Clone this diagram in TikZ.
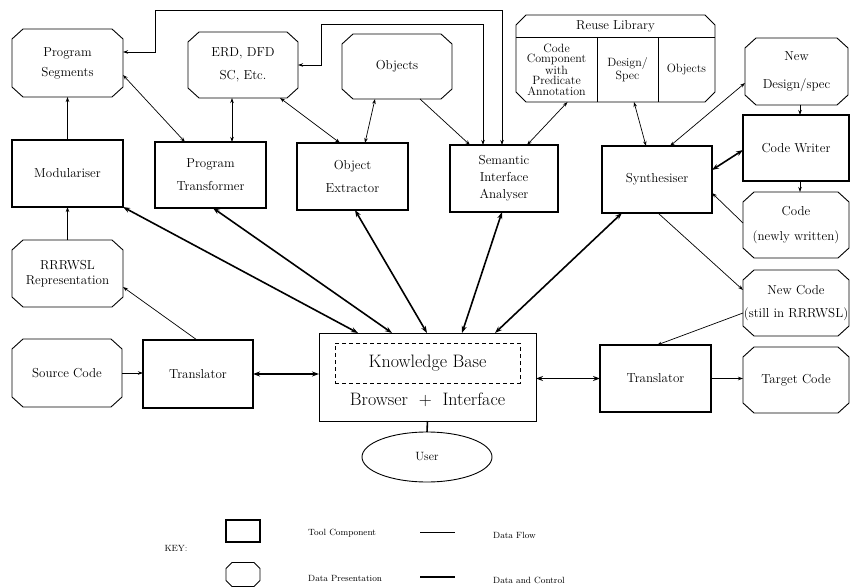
\documentclass[tikz,border=0pt]{standalone}
\usetikzlibrary{arrows.meta,shapes.geometric,calc}
\newcommand\octdraw[3]{%
 \draw[octline] ([xshift=#2]#1.north west) -- ([xshift=-#2]#1.north east) -- ([yshift=-#3]#1.north east) -- ([yshift=#3]#1.south east) -- ([xshift=-#2]#1.south east) -- ([xshift=#2]#1.south west) -- ([yshift=#3]#1.south west) -- ([yshift=-#3]#1.north west) -- cycle;}
\newcommand\octbox[6]{%
 \node[lbl, minimum width=#4pt, minimum height=#5pt] (#1) at (#2,#3) {#6};
 \octdraw{#1}{11pt}{10pt}}
\begin{document}
\begin{tikzpicture}[x=1pt,y=-1pt,
  lbl/.style={font=\fontsize{13}{15}\selectfont, align=center, inner sep=0pt, outer sep=0pt},
  tool/.style={lbl, draw, line width=1.3pt},
  octline/.style={line width=0.9pt, line join=miter},
  dflow/.style={line width=0.7pt, >={Stealth[length=5pt,width=3.5pt]}},
  dctrl/.style={line width=1.6pt, >={Stealth[length=7pt,width=5pt]}},
  keytext/.style={font=\fontsize{9}{11}\selectfont, anchor=west, inner sep=0pt},
  libtext/.style={font=\fontsize{12}{10.5}\selectfont, align=center, inner sep=0pt, outer sep=0pt}
]
\useasboundingbox (0,0) rectangle (851,588);

% data presentations
\octbox{ps}{67.5}{63}{111}{68}{Program\\[5pt]Segments}
\octbox{erd}{243}{65}{110}{66}{ERD, DFD\\[8pt]SC, Etc.}
\octbox{obj}{397}{66.5}{110}{65}{Objects}
\octbox{nds}{796.5}{71.5}{103}{67}{New\\[13pt]Design/spec}
\octbox{code}{796}{225}{106}{66}{Code\\[10pt](newly written)}
\octbox{nc}{796}{303}{106}{66}{New Code\\[8pt](still in RRRWSL)}
\octbox{tc}{796}{380}{106}{66}{Target Code}
\octbox{rr}{67.5}{273.5}{111}{67}{RRRWSL\\[0pt]Representation}
\octbox{sc}{67}{373}{110}{68}{Source Code}

% reuse library
\node[inner sep=0pt, outer sep=0pt, minimum width=199pt, minimum height=87pt] (rl) at (615.5,58.5) {};
\octdraw{rl}{10pt}{10pt}
\draw[line width=0.9pt] ([yshift=-22pt]rl.north west) -- ([yshift=-22pt]rl.north east);
\node[lbl] (rlh) at (615.5,26) {Reuse Library};
\node[libtext, minimum width=81pt, minimum height=65pt] (rlcc) at (556.5,69.5) {Code\\Component\\with\\Predicate\\Annotation};
\node[libtext, minimum width=61pt, minimum height=65pt, font=\fontsize{12}{10}\selectfont] (rlds) at (627.5,69.5) {Design/\\Spec};
\node[libtext, minimum width=57pt, minimum height=65pt] (rlob) at (686.5,69.5) {Objects};
\draw[line width=0.9pt] (rlcc.north east) -- (rlcc.south east);
\draw[line width=0.9pt] (rlds.north east) -- (rlds.south east);

% tool components
\node[tool, minimum width=111pt, minimum height=67pt] (mod) at (67.5,173.5) {Modulariser};
\node[tool, minimum width=111pt, minimum height=66pt] (pt) at (210.5,175) {Program\\[8pt]Transformer};
\node[tool, minimum width=111pt, minimum height=67pt] (oe) at (352.5,176.5) {Object\\[8pt]Extractor};
\node[tool, minimum width=108pt, minimum height=67pt] (sia) at (504,178.5) {Semantic\\[2pt]Interface\\[2pt]Analyser};
\node[tool, minimum width=110pt, minimum height=67pt] (syn) at (657,179.5) {Synthesiser};
\node[tool, line width=1.8pt, minimum width=106pt, minimum height=66pt] (cw) at (796,148) {Code Writer};
\node[tool, minimum width=110pt, minimum height=68pt] (tr1) at (198,374) {Translator};
\node[tool, minimum width=111pt, minimum height=67pt] (tr2) at (655.5,378.5) {Translator};

% knowledge base
\node[draw, line width=1pt, inner sep=0pt, outer sep=0pt, minimum width=217pt, minimum height=88pt] (kb) at (427.5,377) {};
\node[draw, line width=0.9pt, dash pattern=on 4pt off 3pt, inner sep=0pt, minimum width=185pt, minimum height=40pt, font=\fontsize{18}{21}\selectfont] (kbi) at (427.5,363) {Knowledge Base};
\node[inner sep=0pt, font=\fontsize{18}{21}\selectfont] (kbt) at (427.5,400) {Browser\hspace{0.6em}+\hspace{0.6em}Interface};
\node[draw, ellipse, line width=0.9pt, inner sep=0pt, outer sep=0pt, minimum width=130pt, minimum height=50pt, font=\fontsize{12}{14}\selectfont] (user) at (427,457) {User};

% data flow connectors
\draw[dflow,->] (mod.north) -- (ps.south);
\draw[dflow,->] (rr.north) -- (mod.south);
\draw[dflow,->] ([xshift=54pt]tr1.north west) -- ([yshift=-13.5pt]rr.east);
\draw[dflow,->] (sc.east) -- (sc.east -| tr1.west);
\draw[dflow,<->] ([yshift=-12pt]ps.east) -- ([xshift=30pt]pt.north west);
\draw[dflow,<->] ([xshift=44pt]erd.south west) -- ([xshift=77pt]pt.north west);
\draw[dflow,<->] ([xshift=-18pt]erd.south east) -- ([xshift=43pt]oe.north west);
\draw[dflow,<->] ([xshift=33pt]obj.south west) -- ([xshift=68pt]oe.north west);
\draw[dflow,->] ([xshift=78pt]obj.south west) -- ([xshift=20pt]sia.north west);
\draw[dflow,<->] ([xshift=11pt]rlcc.south) -- ([xshift=77pt]sia.north west);
\draw[dflow,<->] ([xshift=6.5pt]rlds.south) -- ([xshift=44pt]syn.north west);
\draw[dflow,<->] ([yshift=-11.5pt]nds.west) -- ([xshift=68pt]syn.north west);
\draw[dflow,->] ([xshift=3.5pt]nds.south) -- ([xshift=4pt]cw.north);
\draw[dflow,->] ([xshift=4pt]cw.south) -- ([xshift=4pt]code.north);
\draw[dflow,->] ([yshift=2pt]code.west) -- ([yshift=-13.5pt]syn.east);
\draw[dflow,->] ([xshift=1pt]syn.south) -- ([yshift=13pt]nc.west);
\draw[dflow,->] ([yshift=-10pt]nc.west) -- ([xshift=1.5pt]tr2.north);
\draw[dflow,->] (tr2.east) -- (tr2.east -| tc.west);
\draw[dflow,<->] ([yshift=11pt]ps.east) -| (155,10) -| ([xshift=52pt]sia.north west);
\draw[dflow,<->] (erd.east) -| (321,24) -| ([xshift=33pt]sia.north west);

% data and control connectors
\draw[dctrl,<->] (tr1.east) -- (tr1.east -| kb.west);
\draw[dctrl,<->] (tr2.west -| kb.east) -- (tr2.west);
\draw[dctrl,<->] (mod.south east) -- ([xshift=39pt]kb.north west);
\draw[dctrl,<->] ([xshift=58pt]pt.south west) -- ([xshift=73pt]kb.north west);
\draw[dctrl,<->] ([xshift=58pt]oe.south west) -- ([xshift=108pt]kb.north west);
\draw[dctrl,<->] ([xshift=52pt]sia.south west) -- ([xshift=143pt]kb.north west);
\draw[dctrl,<->] ([xshift=20pt]syn.south west) -- ([xshift=176pt]kb.north west);
\draw[dctrl,<->] ([yshift=-2pt]cw.west) -- ([yshift=9.5pt]syn.east);
\draw[dctrl] (kb.south) -- (user.north);

% key
\node[inner sep=0pt, font=\fontsize{9}{11}\selectfont] (key) at (176,548) {KEY:};
\node[draw, line width=1.3pt, inner sep=0pt, outer sep=0pt, minimum width=34pt, minimum height=22pt] (k1) at (243,531) {};
\node[inner sep=0pt, outer sep=0pt, minimum width=34pt, minimum height=24pt] (k2) at (243,574.5) {};
\octdraw{k2}{6pt}{6pt}
\node[keytext] (k1t) at (308,533) {Tool Component};
\node[keytext] (k2t) at (308,578) {Data Presentation};
\coordinate (l1a) at (420,532);
\coordinate (l1b) at (455,532);
\coordinate (l2a) at (420,577);
\coordinate (l2b) at (455,577);
\draw[line width=0.8pt] (l1a) -- (l1b);
\draw[line width=1.6pt] (l2a) -- (l2b);
\node[keytext] (l1t) at (493,535) {Data Flow};
\node[keytext] (l2t) at (493,580) {Data and Control};
\end{tikzpicture}
\end{document}
